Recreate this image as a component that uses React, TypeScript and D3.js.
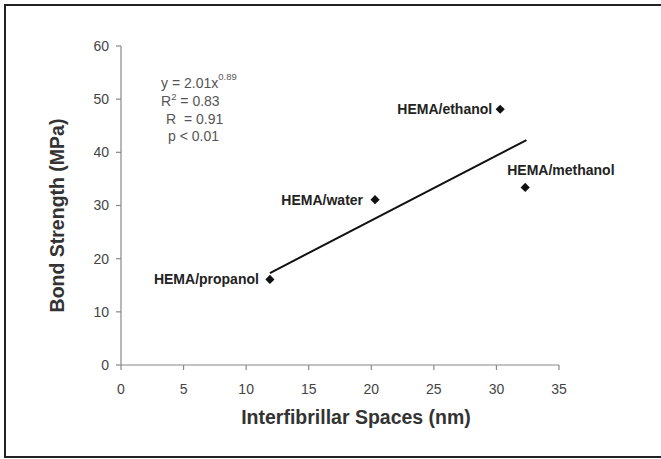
import React from "react";
import * as d3 from "d3";

const labels = ["HEMA/propanol", "HEMA/water", "HEMA/ethanol", "HEMA/methanol"];
const spaces = [11.9, 20.3, 30.3, 32.3];
const strength = [16.1, 31.1, 48.1, 33.4];
const trendX = [11.9, 32.4];
const trendY = [17.3, 42.3];
const xTicks = [0, 5, 10, 15, 20, 25, 30, 35];
const yTicks = [0, 10, 20, 30, 40, 50, 60];

const W = 661;
const H = 459;
const FONT = "Arial, 'Liberation Sans', Helvetica, sans-serif";

export default function App() {
  const x = d3.scaleLinear().domain([0, 35]).range([121, 559]);
  const y = d3.scaleLinear().domain([0, 60]).range([365, 46]);
  const diamond = d3.symbol().type(d3.symbolSquare).size(42)() as string;
  const line = d3
    .line<number>()
    .x((d) => x(d))
    .y((_, i) => y(trendY[i]));

  const labelPos = [
    { dx: -11, dy: 0, anchor: "end" },
    { dx: -12, dy: 0, anchor: "end" },
    { dx: -8, dy: 0, anchor: "end" },
    { dx: -18, dy: -17, anchor: "start" },
  ];

  return (
    <svg
      width={W}
      height={H}
      style={{ position: "absolute", left: 0, top: 0, background: "#fff" }}
      fontFamily={FONT}
    >
      <rect x={5} y={5} width={W + 10} height={452} fill="#fff" stroke="#222" strokeWidth={2} />
      {/* y axis */}
      <line x1={x(0)} x2={x(0)} y1={y(60)} y2={y(0)} stroke="#888" strokeWidth={1.2} />
      {yTicks.map((t) => (
        <g key={"y" + t}>
          <line x1={x(0) - 5} x2={x(0)} y1={y(t)} y2={y(t)} stroke="#888" strokeWidth={1.2} />
          <text x={x(0) - 12} y={y(t)} dy="0.35em" textAnchor="end" fontSize={14} fill="#444">
            {t}
          </text>
        </g>
      ))}
      {/* x axis */}
      <line x1={x(0)} x2={x(35)} y1={y(0)} y2={y(0)} stroke="#888" strokeWidth={1.2} />
      {xTicks.map((t) => (
        <g key={"x" + t}>
          <line x1={x(t)} x2={x(t)} y1={y(0)} y2={y(0) + 5} stroke="#888" strokeWidth={1.2} />
          <text x={x(t)} y={y(0) + 29} textAnchor="middle" fontSize={14} fill="#444">
            {t}
          </text>
        </g>
      ))}
      {/* trend line */}
      <path d={line(trendX) || ""} fill="none" stroke="#111" strokeWidth={2} />
      {/* points */}
      {spaces.map((s, i) => (
        <g key={labels[i]}>
          <path
            d={diamond}
            transform={`translate(${x(s)},${y(strength[i])}) rotate(45)`}
            fill="#111"
          />
          <text
            x={x(s) + labelPos[i].dx}
            y={y(strength[i]) + labelPos[i].dy}
            dy="0.35em"
            textAnchor={labelPos[i].anchor}
            fontSize={14}
            fontWeight="bold"
            fill="#222"
          >
            {labels[i]}
          </text>
        </g>
      ))}
      {/* equation annotation */}
      <g fontSize={14} fill="#555">
        <text x={161} y={87.5}>
          y = 2.01x<tspan dy={-8} fontSize={9.5}>0.89</tspan>
        </text>
        <text x={161} y={106}>
          R<tspan dy={-6} fontSize={9.5}>2</tspan>
          <tspan dy={6}> = 0.83</tspan>
        </text>
        <text x={166} y={124} style={{ whiteSpace: "pre" }}>R  = 0.91</text>
        <text x={168} y={141}>p &lt; 0.01</text>
      </g>
      {/* axis titles */}
      <text
        x={356}
        y={424}
        textAnchor="middle"
        fontSize={19.5}
        fontWeight="bold"
        fill="#333"
      >
        Interfibrillar Spaces (nm)
      </text>
      <text
        transform={`translate(63.5,215.5) rotate(-90)`}
        textAnchor="middle"
        fontSize={19.5}
        fontWeight="bold"
        fill="#333"
      >
        Bond Strength (MPa)
      </text>
    </svg>
  );
}
